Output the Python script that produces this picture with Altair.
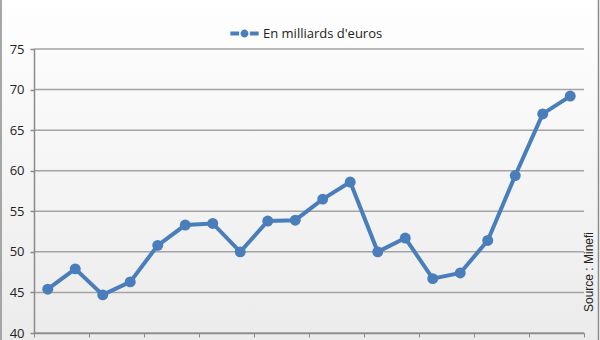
import altair as alt
import pandas as pd

idx = list(range(1, 21))
values = [45.4, 47.9, 44.7, 46.3, 50.8, 53.3, 53.5, 50.0, 53.8, 53.9,
          56.5, 58.6, 50.0, 51.7, 46.7, 47.4, 51.4, 59.4, 67.0, 69.2]
series = ["En milliards d'euros"] * len(idx)
y_ticks = [40, 45, 50, 55, 60, 65, 70, 75]
x_ticks = [i + 0.5 for i in range(0, 21)]

df = pd.DataFrame({"i": idx, "v": values, "s": series})
grid_df = pd.DataFrame({"g": y_ticks})

W, H = 550, 284
PL, PT = 34, 49
BLUE = "#4a7ebb"
FONT = "Open Sans"

bg = alt.Chart(pd.DataFrame({"a": [0]})).mark_rect(
    color=alt.LinearGradient(
        gradient="linear",
        stops=[alt.GradientStop(offset=0, color="#ffffff"),
               alt.GradientStop(offset=1, color="#ebebeb")],
        x1=0, x2=0, y1=0, y2=1),
    stroke="#8a8a8a", strokeWidth=1.5,
).encode(x=alt.value(1 - PL), x2=alt.value(598.5 - PL),
         y=alt.value(-PT - 5), y2=alt.value(345 - PT))

x_scale = alt.Scale(domain=[0.5, 20.5], nice=False, zero=False)
y_scale = alt.Scale(domain=[40, 75], nice=False, zero=False)

y_axis = alt.Axis(values=y_ticks, title=None, grid=False,
                  tickSize=4, tickColor="#8a8a8a", tickWidth=1.5,
                  domainColor="#8a8a8a", domainWidth=1.5,
                  labelFont=FONT, labelFontSize=13, labelColor="#222222",
                  labelPadding=6, zindex=1)

grid = alt.Chart(grid_df).mark_rule(color="#a3a3a3", strokeWidth=1.5).encode(
    y=alt.Y("g:Q", scale=y_scale, axis=y_axis))

x_enc = alt.X("i:Q", scale=x_scale,
              axis=alt.Axis(values=x_ticks, labels=False, title=None, grid=False,
                            tickSize=4, tickColor="#8a8a8a", domainColor="#8a8a8a",
                            domainWidth=1.5, tickWidth=1, zindex=1))
y_enc = alt.Y("v:Q", scale=y_scale, axis=y_axis)

color_enc = alt.Color("s:N", scale=alt.Scale(range=[BLUE]),
                      legend=alt.Legend(orient="none", legendX=196, legendY=-30,
                                        title=None, labelFont=FONT, labelFontSize=13,
                                        labelColor="#222222",
                                        symbolType="M-1,-0.14H-0.38V0.14H-1Z M0.38,-0.14H1V0.14H0.38Z M-0.28,0A0.28,0.28 0 1,1 0.28,0A0.28,0.28 0 1,1 -0.28,0Z",
                                        symbolSize=800, symbolFillColor=BLUE,
                                        symbolStrokeWidth=0, symbolOffset=0))

base = alt.Chart(df)
line = base.mark_line(strokeWidth=4).encode(x=x_enc, y=y_enc, color=color_enc)
pts = base.mark_point(filled=True, size=120, opacity=1).encode(
    x=alt.X("i:Q", scale=x_scale), y=alt.Y("v:Q", scale=y_scale, axis=y_axis),
    color=alt.Color("s:N", legend=None, scale=alt.Scale(range=[BLUE])))

src = alt.Chart(pd.DataFrame({"t": ["Source : Minefi"]})).mark_text(
    angle=270, font="Liberation Sans", fontSize=12, color="#222222",
    align="center", baseline="middle").encode(
    text="t:N", x=alt.value(589 - PL), y=alt.value(272 - PT))

chart = alt.layer(bg, grid, line, pts, src).properties(
    width=W, height=H,
    padding={"left": PL, "top": PT, "right": 16, "bottom": 7},
    autosize=alt.AutoSizeParams(type="none"),
).configure_view(stroke=None).configure(background="#ffffff")

chart.save("out.html", embed_options={"renderer": "svg", "actions": False})
